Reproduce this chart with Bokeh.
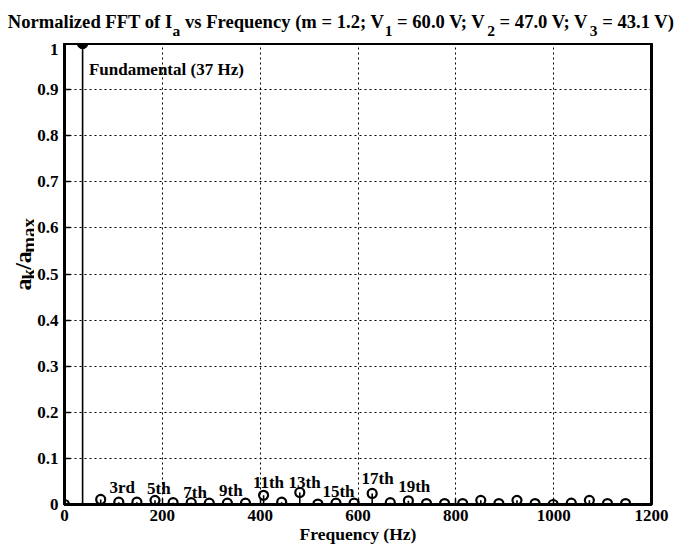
import math
from bokeh.plotting import figure
from bokeh.models import Label, FixedTicker, Range1d
from bokeh.layouts import column, row
from bokeh.core.properties import value
from bokeh.embed import file_html
from bokeh.resources import INLINE

# ---------------- data ----------------
freq_hz = [0, 37, 74, 111, 148, 185, 222, 259, 296, 333, 370, 407, 444, 481, 518, 555,
           592, 629, 666, 703, 740, 777, 814, 851, 888, 925, 962, 999, 1036, 1073, 1110, 1147]
amplitude = [0.0, 1.0, 0.011, 0.005, 0.005, 0.009, 0.004, 0.004, 0.003, 0.003, 0.003, 0.020,
             0.005, 0.026, 0.001, 0.003, 0.003, 0.024, 0.004, 0.008, 0.002, 0.002, 0.002,
             0.009, 0.002, 0.009, 0.002, 0.0, 0.003, 0.009, 0.002, 0.002]
fundamental_hz = [37]
fundamental_amp = [1.0]

harmonic_labels = ["3rd", "5th", "7th", "9th", "11th", "13th", "15th", "17th", "19th"]
harmonic_label_x = [118, 193, 267, 340, 417, 491, 560, 640, 715]
harmonic_label_y = [0.037, 0.035, 0.026, 0.030, 0.048, 0.048, 0.028, 0.056, 0.039]

x_ticks = [0, 200, 400, 600, 800, 1000, 1200]
y_ticks = [0, 0.1, 0.2, 0.3, 0.4, 0.5, 0.6, 0.7, 0.8, 0.9, 1]
y_tick_labels = ["0", "0.1", "0.2", "0.3", "0.4", "0.5", "0.6", "0.7", "0.8", "0.9", "1"]

# ---------------- layout (canvas px) ----------------
W, H = 681, 549
FL, FR, FT, FB = 62, 651, 43, 504   # frame edges
YLAB_W = 34
FONT = "Liberation Serif"

AFM = {" ": 250, "(": 333, ")": 333, ".": 250, "/": 278, ";": 333, "=": 570,
       "F": 611, "H": 778, "I": 389, "N": 722, "T": 667, "V": 722,
       "a": 500, "c": 444, "d": 556, "e": 444, "f": 333, "h": 556, "i": 278, "k": 556,
       "l": 278, "m": 833, "n": 556, "o": 500, "q": 556, "r": 444, "s": 389, "t": 333,
       "u": 556, "v": 500, "x": 500, "y": 500, "z": 444}
for d in "0123456789":
    AFM[d] = 500


def tw(s, size):
    return sum(AFM[c] for c in s) * size / 1000.0


def blank_fig(width, height):
    # frame covers the whole strip; coordinates are strip pixels, y measured upward
    f = figure(width=width, height=height, output_backend="svg", toolbar_location=None,
               title=None, x_range=Range1d(0, width), y_range=Range1d(0, height),
               x_axis_location=None, y_axis_location=None,
               min_border=0, min_border_left=0, min_border_right=0,
               min_border_top=0, min_border_bottom=0)
    f.grid.visible = False
    f.outline_line_color = None
    f.background_fill_color = "white"
    f.border_fill_color = "white"
    return f


def put_text(f, s, x, y, size, angle=0.0, align="left"):
    f.text(x=[x], y=[y], text=[s], angle=angle, text_align=align,
           text_baseline="alphabetic", text_font=value(FONT), text_font_style="bold",
           text_font_size=f"{size}px", text_color="black")


ROT = math.pi / 2   # counter-clockwise: text reads upward


def put_run(f, pieces, x, y, main, sub, sub_drop, horizontal=True):
    """Place a run of (text, is_sub) pieces; leading blanks become offsets (SVG drops them)."""
    pos = x
    for s, is_sub in pieces:
        size = sub if is_sub else main
        stripped = s.lstrip(" ")
        pos_text = pos + tw(s[:len(s) - len(stripped)], size)
        if horizontal:
            put_text(f, stripped, pos_text, y - (sub_drop if is_sub else 0), size)
        else:
            # rotated: text reads upward, subscripts shift to the right
            put_text(f, stripped, y + (sub_drop if is_sub else 0), pos_text, size, angle=ROT)
        pos += tw(s, size)


# ---------------- main plot ----------------
p_h = H - FT
p = figure(width=W - YLAB_W, height=p_h, output_backend="svg", toolbar_location=None,
           title=None, x_range=Range1d(0, 1200), y_range=Range1d(0, 1),
           min_border_left=FL - YLAB_W, min_border_right=W - FR,
           min_border_top=0, min_border_bottom=H - FB)
p.background_fill_color = "white"
p.border_fill_color = "white"
p.outline_line_color = "black"
p.outline_line_width = 3
p.outline_line_alpha = 1

p.xaxis.ticker = FixedTicker(ticks=x_ticks)
p.yaxis.ticker = FixedTicker(ticks=y_ticks)
p.yaxis.major_label_overrides = {t: s for t, s in zip(y_ticks, y_tick_labels)}
for ax in (p.xaxis, p.yaxis):
    ax.axis_line_width = 3
    ax.axis_line_color = "black"
    ax.major_tick_in = 6
    ax.major_tick_out = 0
    ax.major_tick_line_width = 1.5
    ax.major_tick_line_color = "black"
    ax.minor_tick_line_color = None
    ax.major_label_text_font = FONT
    ax.major_label_text_font_style = "bold"
    ax.major_label_text_font_size = "17px"
    ax.major_label_text_color = "black"
p.xaxis.major_label_standoff = 5
p.yaxis.major_label_standoff = 6
p.xaxis.axis_label = "Frequency (Hz)"
p.xaxis.axis_label_standoff = 0
p.xaxis.axis_label_text_font = FONT
p.xaxis.axis_label_text_font_style = "bold"
p.xaxis.axis_label_text_font_size = "17.5px"
p.xaxis.axis_label_text_color = "black"

p.grid.grid_line_color = "black"
p.grid.grid_line_dash = "2 3"
p.grid.grid_line_width = 1

p.segment(x0=freq_hz, y0=[0] * len(freq_hz), x1=freq_hz, y1=amplitude,
          line_color="black", line_width=1.6)
p.scatter(x=freq_hz, y=amplitude, marker="circle", size=9,
          line_color="black", line_width=2.2, fill_alpha=0)
p.scatter(x=fundamental_hz, y=fundamental_amp, marker="circle", size=10,
          line_color="black", fill_color="black")

for t, x, y in zip(harmonic_labels, harmonic_label_x, harmonic_label_y):
    p.add_layout(Label(x=x, y=y, text=t, text_align="center", text_baseline="middle",
                       text_font=FONT, text_font_style="bold", text_font_size="17px",
                       text_color="black"))

p.add_layout(Label(x=50, y=0.944, text="Fundamental (37 Hz)", text_align="left",
                   text_baseline="middle", text_font=FONT, text_font_style="bold",
                   text_font_size="17px", text_color="black"))

# ---------------- title strip ----------------
tfig = blank_fig(W, FT)
T_MAIN, T_SUB = 18.6, 15.5
title_pieces = [("Normalized FFT of I", 0), ("a", 1), (" vs Frequency (m = 1.2; V", 0), ("1", 1),
                (" = 60.0 V; V", 0), ("2", 1), (" = 47.0 V; V", 0), ("3", 1), (" = 43.1 V)", 0)]
t_total = sum(tw(s, T_SUB if sub else T_MAIN) for s, sub in title_pieces)
put_run(tfig, title_pieces, W / 2 - t_total / 2, FT - 21, T_MAIN, T_SUB, 9)

# ---------------- y label strip ----------------
yfig = blank_fig(YLAB_W, p_h)
Y_MAIN, Y_SUB = 24, 19
ypieces = [("a", 0), ("k", 1), ("/a", 0), ("max", 1)]
y_total = sum(tw(s, Y_SUB if sub else Y_MAIN) for s, sub in ypieces)
label_mid = H - 276          # strip y (upward) of the label centre
put_run(yfig, ypieces, label_mid - y_total / 2, 22, Y_MAIN, Y_SUB, 6, horizontal=False)

layout = column(tfig, row(yfig, p, spacing=0), spacing=0)
open("out.html", "w").write(file_html(layout, INLINE))
